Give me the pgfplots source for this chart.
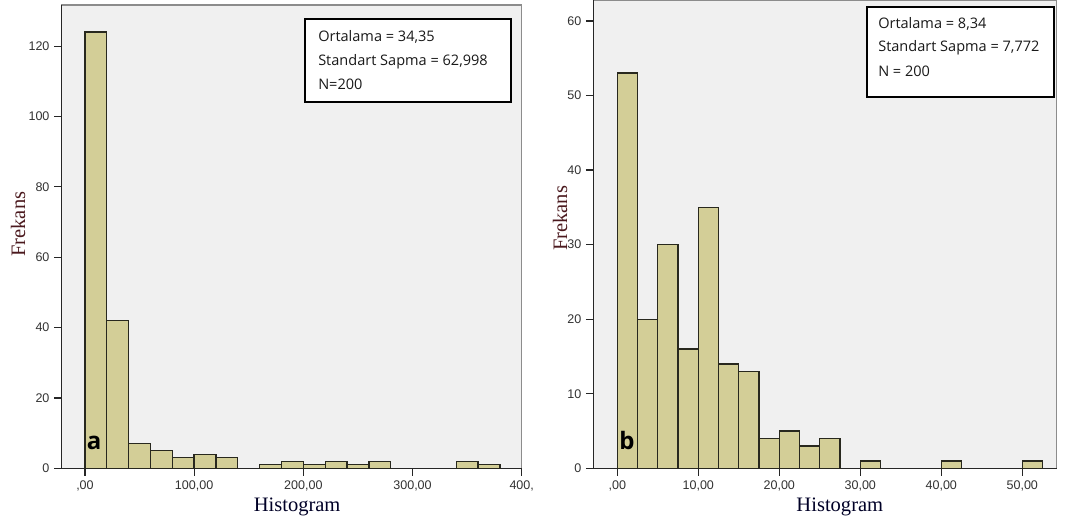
\documentclass[border=0pt]{standalone}
\usepackage{fontspec}
\setmainfont{Liberation Serif}
\newfontfamily\tickfont{Liberation Sans}
\newfontfamily\legfont{Open Sans}
\usepackage{pgfplots}
\pgfplotsset{compat=1.18}
\definecolor{barfill}{RGB}{211,206,151}
\definecolor{bgcol}{RGB}{240,240,240}
\definecolor{frek}{RGB}{75,25,30}
\definecolor{tickc}{RGB}{50,50,50}
\definecolor{edgec}{RGB}{40,40,30}
\pgfplotsset{spss/.style={
  scale only axis, anchor=south west,
  axis lines=left,
  axis line style={-, draw=black!85, line width=1pt},
  every outer x axis line/.append style={-, draw=black!85, line width=1pt},
  every outer y axis line/.append style={-, draw=black!85, line width=1pt},
  axis background/.style={fill=bgcol, draw=black!45, line width=0.8pt},
  tick align=outside, major tick length=5.5pt,
  tick style={draw=black!85, line width=0.9pt},
  ticklabel style={font=\tickfont\fontsize{9.4}{10}\selectfont, text=tickc},
  /pgf/number format/assume math mode=true,
  ymin=0,
  ybar, bar shift=0pt,
  xlabel style={font=\fontsize{15.4}{18}\selectfont, text=black!85!blue},
  ylabel style={font=\fontsize{15.4}{18}\selectfont, text=frek},
}}
\tikzset{spssbar/.style={fill=barfill, draw=edgec, line width=1pt}}
\begin{document}
\begin{tikzpicture}
\useasboundingbox (0,0) rectangle (798.75pt,393.75pt);
% ---------- panel a ----------
\begin{axis}[spss,
  at={(46.125pt,42.5pt)}, width=345.15pt, height=347.5pt,
  xmin=-21.5, xmax=400, ymax=131.7,
  bar width=20,
  xtick={0,100,200,300,400},
  xticklabels={{,00},{100,00},{200,00},{300,00},{400,}},
  ytick={0,20,40,60,80,100,120},
  xlabel={Histogram}, ylabel={Frekans},
  xlabel style={at={(rel axis cs:0.512,-0.0835)}, anchor=center},
  ylabel style={at={(rel axis cs:-0.0945,0.527)}, anchor=center},
]
\addplot[spssbar] coordinates {
 (10,124) (30,42) (50,7) (70,5) (90,3) (110,4) (130,3)
 (170,1) (190,2) (210,1) (230,2) (250,1) (270,2)
 (350,2) (370,1)};
\end{axis}
% ---------- panel b ----------
\begin{axis}[spss,
  at={(444.98pt,42.5pt)}, width=347.55pt, height=351.2pt,
  xmin=-2.96, xmax=54.25, ymax=62.8,
  bar width=2.5,
  xtick={0,10,20,30,40,50},
  xticklabels={{,00},{10,00},{20,00},{30,00},{40,00},{50,00}},
  ytick={0,10,20,30,40,50,60},
  xlabel={Histogram}, ylabel={Frekans},
  xlabel style={at={(rel axis cs:0.532,-0.0826)}, anchor=center},
  ylabel style={at={(rel axis cs:-0.0719,0.534)}, anchor=center},
]
\addplot[spssbar] coordinates {
 (1.25,53) (3.75,20) (6.25,30) (8.75,16) (11.25,35) (13.75,14)
 (16.25,13) (18.75,4) (21.25,5) (23.75,3) (26.25,4)
 (31.25,1) (41.25,1) (51.25,1)};
\end{axis}
% ---------- stat boxes ----------
\draw[black, line width=0.8pt, fill=white]
  ({305*0.75pt},{(525-19)*0.75pt}) rectangle ({511*0.75pt},{(525-102)*0.75pt});
\begin{scope}[every node/.style={anchor=west, inner sep=0pt, font=\legfont\fontsize{10.9}{12}\selectfont, text=black!90}]
\node at ({318*0.75pt},{(525-37)*0.75pt}) {Ortalama = 34,35};
\node at ({318*0.75pt},{(525-61.5)*0.75pt}) {Standart Sapma = 62,998};
\node at ({318*0.75pt},{(525-84)*0.75pt}) {N=200};
\end{scope}
\draw[black, line width=0.8pt, fill=white]
  ({867*0.75pt},{(525-7)*0.75pt}) rectangle ({1054*0.75pt},{(525-97)*0.75pt});
\begin{scope}[every node/.style={anchor=west, inner sep=0pt, font=\legfont\fontsize{10.9}{12}\selectfont, text=black!90}]
\node at ({878*0.75pt},{(525-24)*0.75pt}) {Ortalama = 8,34};
\node at ({878*0.75pt},{(525-48)*0.75pt}) {Standart Sapma = 7,772};
\node at ({878*0.75pt},{(525-71)*0.75pt}) {N = 200};
\end{scope}
% ---------- panel letters ----------
\node[anchor=base, inner sep=0pt, font=\legfont\bfseries\fontsize{18}{20}\selectfont] at ({94*0.75pt},{(525-450)*0.75pt}) {a};
\node[anchor=base, inner sep=0pt, font=\legfont\bfseries\fontsize{18}{20}\selectfont] at ({627*0.75pt},{(525-450)*0.75pt}) {b};
\end{tikzpicture}
\end{document}
